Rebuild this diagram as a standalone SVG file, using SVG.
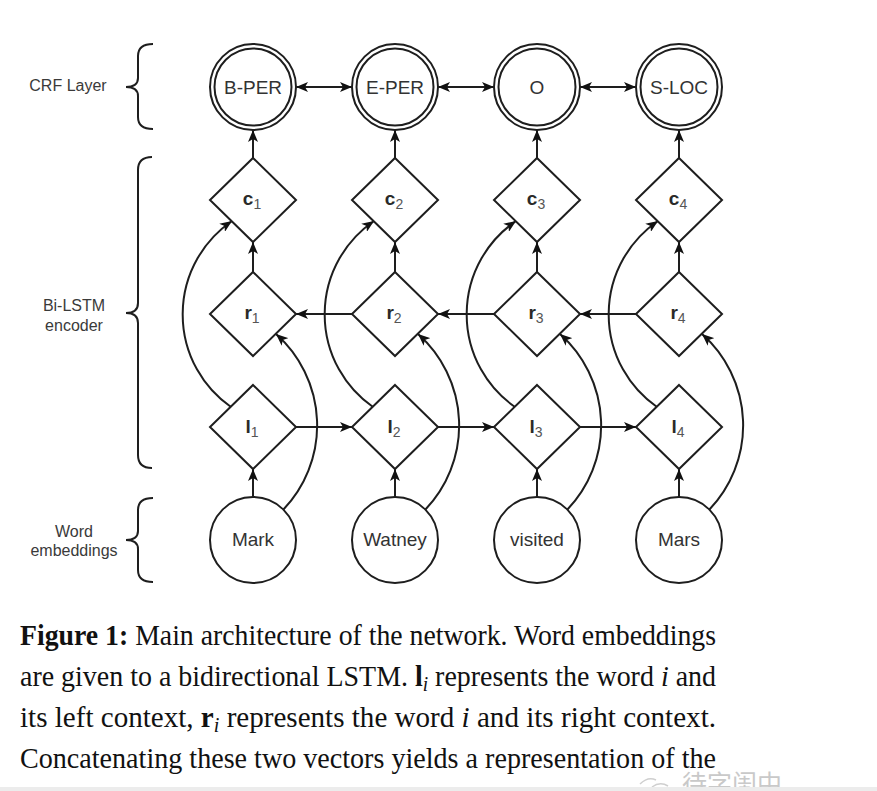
<svg xmlns="http://www.w3.org/2000/svg" width="877" height="791" viewBox="0 0 877 791">
<style>
.ln{fill:none;stroke:#1e1e1e;stroke-width:2}
.nd{fill:#fff;stroke:#1e1e1e;stroke-width:2}
.lbl{font-family:"Liberation Sans",Arial,sans-serif;font-size:19px;fill:#333;text-anchor:middle}
.sym{font-family:"Liberation Sans",Arial,sans-serif;font-size:19px;fill:#2a2a2a;text-anchor:middle}
.sym .b{font-weight:bold}
.sym .s{font-size:14px;fill:#555}
.side{font-family:"Liberation Sans",Arial,sans-serif;font-size:16px;fill:#3a3a3a;text-anchor:middle}
.cap{font-family:"Liberation Serif","Times New Roman",serif;font-size:29px;fill:#111}
.arr{marker-end:url(#ah)}
.bi{marker-start:url(#ah);marker-end:url(#ah)}
</style>
<defs>
<marker id="ah" viewBox="0 0 12 10" refX="12" refY="5" markerWidth="12" markerHeight="10" markerUnits="userSpaceOnUse" orient="auto-start-reverse">
<path d="M0,0 L12,5 L0,10 L3,5 z" fill="#111"/>
</marker>
</defs>
<rect width="877" height="791" fill="#fff"/>

<!-- side labels and braces -->
<g id="side-labels">
<text class="side" x="68" y="91">CRF Layer</text>
<path class="ln" d="M153,44 Q138,44 138,56 L138,78 Q138,87 126,87 Q138,87 138,96 L138,117 Q138,129 153,129"/>
<text class="side" x="74" y="311">Bi-LSTM</text>
<text class="side" x="74" y="331">encoder</text>
<path class="ln" d="M152,157 Q138,157 138,170 L138,303 Q138,313 126,313 Q138,313 138,323 L138,455 Q138,468 152,468"/>
<text class="side" x="74" y="537">Word</text>
<text class="side" x="74" y="556">embeddings</text>
<path class="ln" d="M153,498 Q138,498 138,510 L138,531 Q138,540 126,540 Q138,540 138,549 L138,570 Q138,582 153,582"/>
</g>

<!-- connectors -->
<g id="connectors">
<line class="ln bi" x1="296" y1="87" x2="352" y2="87"/>
<line class="ln bi" x1="438" y1="87" x2="494" y2="87"/>
<line class="ln bi" x1="580" y1="87" x2="636" y2="87"/>
<line class="ln arr" x1="253" y1="158" x2="253" y2="130"/>
<line class="ln arr" x1="395" y1="158" x2="395" y2="130"/>
<line class="ln arr" x1="537" y1="158" x2="537" y2="130"/>
<line class="ln arr" x1="679" y1="158" x2="679" y2="130"/>
<line class="ln arr" x1="253" y1="272" x2="253" y2="242"/>
<line class="ln arr" x1="395" y1="272" x2="395" y2="242"/>
<line class="ln arr" x1="537" y1="272" x2="537" y2="242"/>
<line class="ln arr" x1="679" y1="272" x2="679" y2="242"/>
<line class="ln arr" x1="253" y1="497" x2="253" y2="469"/>
<line class="ln arr" x1="395" y1="497" x2="395" y2="469"/>
<line class="ln arr" x1="537" y1="497" x2="537" y2="469"/>
<line class="ln arr" x1="679" y1="497" x2="679" y2="469"/>
<line class="ln arr" x1="296" y1="427" x2="352" y2="427"/>
<line class="ln arr" x1="438" y1="427" x2="494" y2="427"/>
<line class="ln arr" x1="580" y1="427" x2="636" y2="427"/>
<line class="ln arr" x1="352" y1="314" x2="296" y2="314"/>
<line class="ln arr" x1="494" y1="314" x2="438" y2="314"/>
<line class="ln arr" x1="636" y1="314" x2="580" y2="314"/>
<path class="ln arr" d="M231,407 A113,113 0 0 1 232,221"/>
<path class="ln arr" d="M373,407 A113,113 0 0 1 374,221"/>
<path class="ln arr" d="M515,407 A113,113 0 0 1 516,221"/>
<path class="ln arr" d="M657,407 A113,113 0 0 1 658,221"/>
<path class="ln arr" d="M283,510 A122,122 0 0 0 276,334"/>
<path class="ln arr" d="M425,510 A122,122 0 0 0 418,334"/>
<path class="ln arr" d="M567,510 A122,122 0 0 0 560,334"/>
<path class="ln arr" d="M709,510 A122,122 0 0 0 702,334"/>
</g>

<!-- CRF nodes -->
<g id="crf-1"><circle class="nd" cx="253" cy="87" r="43"/><circle class="ln" cx="253" cy="87" r="38.5"/><text class="lbl" x="253" y="94">B-PER</text></g>
<g id="crf-2"><circle class="nd" cx="395" cy="87" r="43"/><circle class="ln" cx="395" cy="87" r="38.5"/><text class="lbl" x="395" y="94">E-PER</text></g>
<g id="crf-3"><circle class="nd" cx="537" cy="87" r="43"/><circle class="ln" cx="537" cy="87" r="38.5"/><text class="lbl" x="537" y="94">O</text></g>
<g id="crf-4"><circle class="nd" cx="679" cy="87" r="43"/><circle class="ln" cx="679" cy="87" r="38.5"/><text class="lbl" x="679" y="94">S-LOC</text></g>

<!-- c nodes -->
<g id="c1"><polygon class="nd" points="253,158 296,200 253,242 210,200"/><text class="sym" x="252" y="205"><tspan class="b">c</tspan><tspan class="s" dy="4">1</tspan></text></g>
<g id="c2"><polygon class="nd" points="395,158 438,200 395,242 352,200"/><text class="sym" x="394" y="205"><tspan class="b">c</tspan><tspan class="s" dy="4">2</tspan></text></g>
<g id="c3"><polygon class="nd" points="537,158 580,200 537,242 494,200"/><text class="sym" x="536" y="205"><tspan class="b">c</tspan><tspan class="s" dy="4">3</tspan></text></g>
<g id="c4"><polygon class="nd" points="679,158 722,200 679,242 636,200"/><text class="sym" x="678" y="205"><tspan class="b">c</tspan><tspan class="s" dy="4">4</tspan></text></g>

<!-- r nodes -->
<g id="r1"><polygon class="nd" points="253,272 296,314 253,356 210,314"/><text class="sym" x="252" y="319"><tspan class="b">r</tspan><tspan class="s" dy="4">1</tspan></text></g>
<g id="r2"><polygon class="nd" points="395,272 438,314 395,356 352,314"/><text class="sym" x="394" y="319"><tspan class="b">r</tspan><tspan class="s" dy="4">2</tspan></text></g>
<g id="r3"><polygon class="nd" points="537,272 580,314 537,356 494,314"/><text class="sym" x="536" y="319"><tspan class="b">r</tspan><tspan class="s" dy="4">3</tspan></text></g>
<g id="r4"><polygon class="nd" points="679,272 722,314 679,356 636,314"/><text class="sym" x="678" y="319"><tspan class="b">r</tspan><tspan class="s" dy="4">4</tspan></text></g>

<!-- l nodes -->
<g id="l1"><polygon class="nd" points="253,385 296,427 253,469 210,427"/><text class="sym" x="252" y="433"><tspan class="b">l</tspan><tspan class="s" dy="4">1</tspan></text></g>
<g id="l2"><polygon class="nd" points="395,385 438,427 395,469 352,427"/><text class="sym" x="394" y="433"><tspan class="b">l</tspan><tspan class="s" dy="4">2</tspan></text></g>
<g id="l3"><polygon class="nd" points="537,385 580,427 537,469 494,427"/><text class="sym" x="536" y="433"><tspan class="b">l</tspan><tspan class="s" dy="4">3</tspan></text></g>
<g id="l4"><polygon class="nd" points="679,385 722,427 679,469 636,427"/><text class="sym" x="678" y="433"><tspan class="b">l</tspan><tspan class="s" dy="4">4</tspan></text></g>

<!-- word nodes -->
<g id="w1"><circle class="nd" cx="253" cy="540" r="43"/><text class="lbl" x="253" y="546">Mark</text></g>
<g id="w2"><circle class="nd" cx="395" cy="540" r="43"/><text class="lbl" x="395" y="546">Watney</text></g>
<g id="w3"><circle class="nd" cx="537" cy="540" r="43"/><text class="lbl" x="537" y="546">visited</text></g>
<g id="w4"><circle class="nd" cx="679" cy="540" r="43"/><text class="lbl" x="679" y="546">Mars</text></g>

<!-- caption -->
<g id="caption">
<text class="cap" x="20" y="645" textLength="696" lengthAdjust="spacingAndGlyphs"><tspan font-weight="bold">Figure 1:</tspan> Main architecture of the network. Word embeddings</text>
<text class="cap" x="20" y="686" textLength="696" lengthAdjust="spacingAndGlyphs">are given to a bidirectional LSTM. <tspan font-weight="bold">l</tspan><tspan font-style="italic" font-size="20" dy="5">i</tspan><tspan dy="-5"> represents the word </tspan><tspan font-style="italic">i</tspan> and</text>
<text class="cap" x="20" y="727" textLength="696" lengthAdjust="spacingAndGlyphs">its left context, <tspan font-weight="bold">r</tspan><tspan font-style="italic" font-size="20" dy="5">i</tspan><tspan dy="-5"> represents the word </tspan><tspan font-style="italic">i</tspan> and its right context.</text>
<text class="cap" x="20" y="768" textLength="696" lengthAdjust="spacingAndGlyphs">Concatenating these two vectors yields a representation of the</text>
</g>

<!-- watermark -->
<g id="watermark">
<path d="M640,784 Q648,776 656,780 M652,787 Q660,781 668,786" fill="none" stroke="#cfcfcf" stroke-width="1.5"/>
<text x="682" y="793" font-family="'Noto Sans CJK SC',sans-serif" font-size="25" fill="#c9c9c9">待字闺中</text>
<rect x="0" y="787" width="877" height="4" fill="#ececec"/>
</g>
</svg>
